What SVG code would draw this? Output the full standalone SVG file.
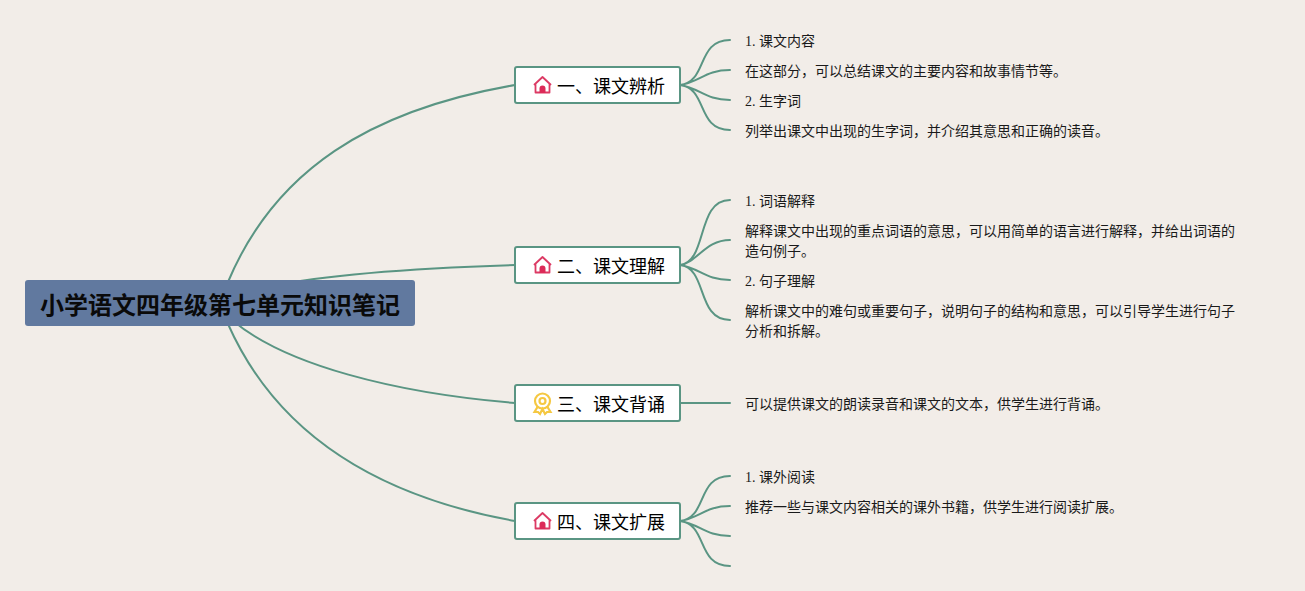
<svg xmlns="http://www.w3.org/2000/svg" width="1305" height="591" viewBox="0 0 1305 591">
<style>
.c{fill:none;stroke:#5a9583;stroke-width:2;stroke-linecap:round}
.b{fill:#fff;stroke:#5a9583;stroke-width:2}
.bt{font:18px "Liberation Serif","Noto Sans CJK SC",sans-serif;fill:#000}
.l{font:14px "Liberation Serif","Noto Sans CJK SC",sans-serif;fill:#1a1a1a}
.r{font:bold 24px "Liberation Sans","Noto Sans CJK SC",sans-serif;fill:#0a0a0a}
.hf{fill:none;stroke:#dc3a64;stroke-width:1.8;stroke-linejoin:round}
.hd{fill:#dc2a58}
.mf{fill:none;stroke:#f5c842;stroke-width:2.2}
</style>
<defs>
<g id="house"><path class="hf" d="M-8.5 0L0-8L8.5 0M-7-1V7.5H7V-1"/><path class="hd" d="M-3 8V3.5a3 3 0 0 1 6 0V8Z"/></g>
<g id="medal"><circle class="mf" cx="0" cy="-3" r="7.5"/><circle class="mf" cx="0" cy="-3" r="3"/><path class="mf" d="M-5 3L-8 8L-4.5 8L-2.5 10L0 5L2.5 10L4.5 8L8 8L5 3"/></g>
</defs>
<rect width="1305" height="591" fill="#f2ede8"/>
<g id="connectors">
<path class="c" d="M228 282C275 170 370 110 515 85"/>
<path class="c" d="M270 286C330 274 420 268 515 265"/>
<path class="c" d="M232 320C285 365 395 393 515 403"/>
<path class="c" d="M228 324C275 430 370 495 515 521"/>
<path class="c" d="M680 85C708 82 696 40 730 40M680 85C700 82 705 70 730 70M680 85C700 88 705 100 730 100M680 85C708 88 696 130 730 130"/>
<path class="c" d="M680 265C708 262 696 200 730 200M680 265C698 262 705 240 730 240M680 265C700 268 705 280 730 280M680 265C708 268 696 320 730 320"/>
<path class="c" d="M680 403H730"/>
<path class="c" d="M680 521C708 518 696 476 730 476M680 521C700 518 705 506 730 506M680 521C700 524 705 536 730 536M680 521C708 524 696 566 730 566"/>
</g>
<g id="root"><rect x="25" y="280" width="390" height="46" rx="3" fill="#61799f"/><text class="r" x="40" y="314">小学语文四年级第七单元知识笔记</text></g>
<g id="n1"><rect class="b" x="515" y="67" width="165" height="36" rx="2"/><use href="#house" x="542.5" y="85"/><text class="bt" x="557" y="93">一、课文辨析</text></g>
<g id="n2"><rect class="b" x="515" y="247" width="165" height="36" rx="2"/><use href="#house" x="542.5" y="265"/><text class="bt" x="557" y="273">二、课文理解</text></g>
<g id="n3"><rect class="b" x="515" y="385" width="165" height="36" rx="2"/><use href="#medal" x="542.5" y="404"/><text class="bt" x="557" y="411">三、课文背诵</text></g>
<g id="n4"><rect class="b" x="515" y="503" width="165" height="36" rx="2"/><use href="#house" x="542.5" y="521"/><text class="bt" x="557" y="529">四、课文扩展</text></g>
<g id="l1"><text class="l" x="745" y="46">1. 课文内容</text></g>
<g id="l2"><text class="l" x="745" y="76">在这部分，可以总结课文的主要内容和故事情节等。</text></g>
<g id="l3"><text class="l" x="745" y="106">2. 生字词</text></g>
<g id="l4"><text class="l" x="745" y="136">列举出课文中出现的生字词，并介绍其意思和正确的读音。</text></g>
<g id="l5"><text class="l" x="745" y="206">1. 词语解释</text></g>
<g id="l6"><text class="l" x="745" y="236">解释课文中出现的重点词语的意思，可以用简单的语言进行解释，并给出词语的</text><text class="l" x="745" y="256">造句例子。</text></g>
<g id="l7"><text class="l" x="745" y="286">2. 句子理解</text></g>
<g id="l8"><text class="l" x="745" y="316">解析课文中的难句或重要句子，说明句子的结构和意思，可以引导学生进行句子</text><text class="l" x="745" y="336">分析和拆解。</text></g>
<g id="l9"><text class="l" x="745" y="409">可以提供课文的朗读录音和课文的文本，供学生进行背诵。</text></g>
<g id="l10"><text class="l" x="745" y="482">1. 课外阅读</text></g>
<g id="l11"><text class="l" x="745" y="512">推荐一些与课文内容相关的课外书籍，供学生进行阅读扩展。</text></g>
</svg>
